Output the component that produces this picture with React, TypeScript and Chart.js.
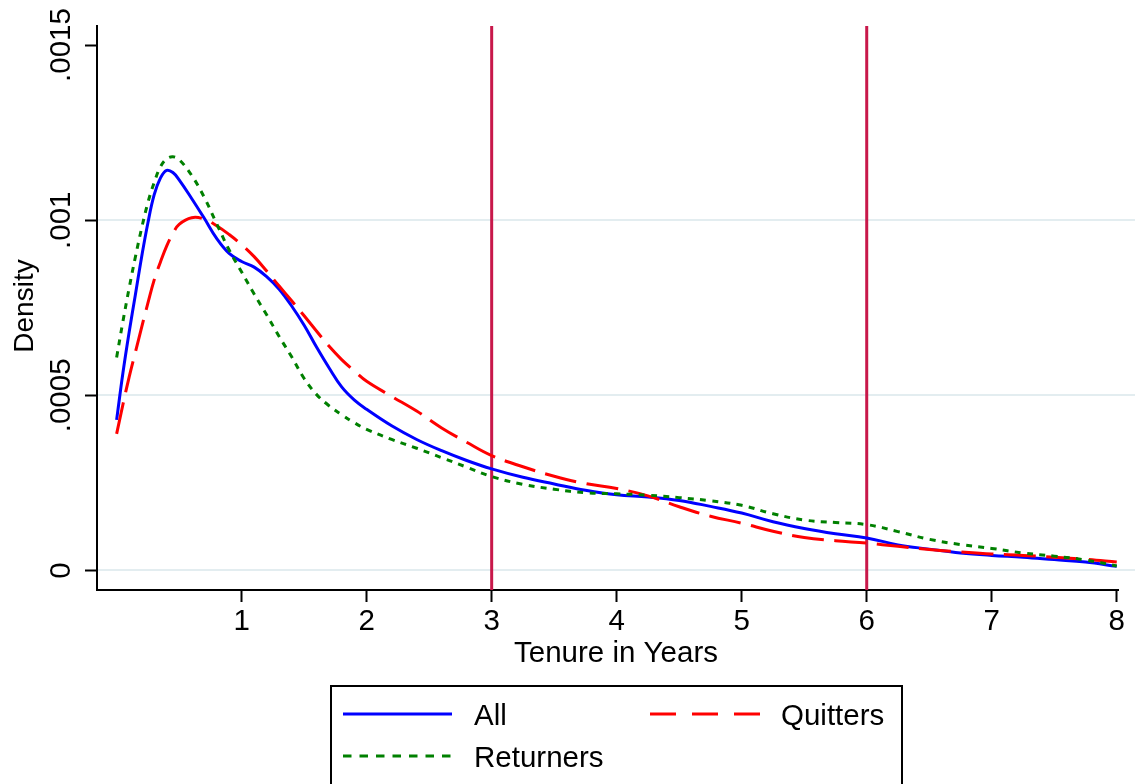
import React, { useEffect, useRef } from "react";
import { Chart, registerables } from "chart.js";

Chart.register(...registerables);

// ---------- data ----------
const TENURE = [
  0, 0.05, 0.1, 0.15, 0.2, 0.25, 0.3, 0.35, 0.4, 0.45, 0.5, 0.6, 0.7, 0.8, 0.9,
  1.0, 1.1, 1.2, 1.3, 1.4, 1.5, 1.6, 1.7, 1.8, 1.9, 2.0, 2.2, 2.4, 2.6, 2.8,
  3.0, 3.25, 3.5, 3.75, 4.0, 4.25, 4.5, 4.75, 5.0, 5.25, 5.5, 5.75, 6.0, 6.25,
  6.5, 6.75, 7.0, 7.25, 7.5, 7.75, 8.0,
];

const ALL = [
  0.00043, 0.000563, 0.00068, 0.000787, 0.000895, 0.000992, 0.001072, 0.00112,
  0.001142, 0.001136, 0.001115, 0.001062, 0.001006, 0.000948, 0.000905,
  0.000882, 0.000866, 0.000839, 0.000803, 0.000755, 0.0007, 0.000637, 0.000578,
  0.000524, 0.000487, 0.00046, 0.000413, 0.000374, 0.000342, 0.000314,
  0.00029, 0.000266, 0.000247, 0.000229, 0.000216, 0.00021, 0.0002, 0.000183,
  0.000164, 0.000139, 0.00012, 0.000105, 0.000093, 0.000073, 0.000061,
  0.00005, 0.000043, 0.000038, 0.000031, 0.000024, 0.000012,
];

const QUITTERS = [
  0.00039, 0.000473, 0.000552, 0.000623, 0.000694, 0.000763, 0.000829, 0.00088,
  0.000926, 0.000962, 0.000988, 0.001007, 0.001003, 0.000984, 0.000959,
  0.00093, 0.000896, 0.000855, 0.000812, 0.00077, 0.000727, 0.000683, 0.00064,
  0.000602, 0.00057, 0.00054, 0.000497, 0.000455, 0.000407, 0.000366,
  0.000328, 0.000296, 0.000269, 0.000248, 0.000234, 0.000213, 0.000182,
  0.000155, 0.000135, 0.000112, 0.000094, 0.000085, 0.000078, 0.000069,
  0.00006, 0.000053, 0.000047, 0.000043, 0.000038, 0.000032, 0.000024,
];

const RETURNERS = [
  0.000608, 0.00071, 0.000806, 0.000895, 0.000977, 0.00105, 0.001107, 0.001152,
  0.001175, 0.001181, 0.001173, 0.001128, 0.001066, 0.00099, 0.000915,
  0.000852, 0.000789, 0.00073, 0.000668, 0.00061, 0.000548, 0.000502, 0.00047,
  0.000445, 0.000422, 0.000403, 0.000374, 0.000349, 0.000322, 0.000295,
  0.000268, 0.000246, 0.000232, 0.000222, 0.000219, 0.000215, 0.000208,
  0.000199, 0.000186, 0.000162, 0.000144, 0.000137, 0.000131, 0.000111,
  0.000089, 0.000074, 0.000063, 0.00005, 0.000041, 0.00003, 0.000013,
];

const SERIES_NAMES = ["All", "Quitters", "Returners"];
const X_TICKS = [1, 2, 3, 4, 5, 6, 7, 8];
const Y_TICKS = [0, 0.0005, 0.001, 0.0015];
const Y_TICK_LABELS = ["0", ".0005", ".001", ".0015"];
const VLINES = [3, 6];
const X_TITLE = "Tenure in Years";
const Y_TITLE = "Density";

const X_MIN = -0.157;
const X_MAX = 8.01;
const Y_MIN = -0.0000557;
const Y_MAX = 0.0015543;

// ---------- styles ----------
const FONT = '"Liberation Sans", Arial, Helvetica, sans-serif';
const GRID = "#e3edf0";
const VLINE_COLOR = "#c8184a";

const pts = (vals: number[]) => TENURE.map((x, i) => ({ x, y: vals[i] }));

const stataPlugin = {
  id: "stataText",
  beforeDatasetsDraw(chart: any) {
    const { ctx, chartArea } = chart;
    const ys = chart.scales.y;
    ctx.save();
    ctx.strokeStyle = GRID;
    ctx.lineWidth = 2;
    Y_TICKS.forEach((v, i) => {
      if (i === Y_TICKS.length - 1) return;
      const py = Math.round(ys.getPixelForValue(v));
      ctx.beginPath();
      ctx.moveTo(chartArea.left + 1, py);
      ctx.lineTo(chart.width, py);
      ctx.stroke();
    });
    ctx.restore();
  },
  afterDraw(chart: any) {
    const { ctx } = chart;
    const xs = chart.scales.x;
    const ys = chart.scales.y;
    ctx.save();
    ctx.fillStyle = "#000";
    ctx.font = `29.5px ${FONT}`;
    ctx.textAlign = "center";
    ctx.textBaseline = "alphabetic";
    X_TICKS.forEach((v) => ctx.fillText(String(v), xs.getPixelForValue(v), 630));
    Y_TICKS.forEach((v, i) => {
      ctx.save();
      ctx.translate(70, ys.getPixelForValue(v));
      ctx.rotate(-Math.PI / 2);
      ctx.fillText(Y_TICK_LABELS[i], 0, 0);
      ctx.restore();
    });
    ctx.fillText(X_TITLE, 616, 662);
    ctx.save();
    ctx.translate(33, 306);
    ctx.rotate(-Math.PI / 2);
    ctx.font = `28px ${FONT}`;
    ctx.fillText(Y_TITLE, 0, 0);
    ctx.restore();

    // legend
    ctx.lineWidth = 2;
    ctx.strokeStyle = "#000";
    ctx.setLineDash([]);
    ctx.strokeRect(331, 686, 571, 130);
    const ds = chart.data.datasets;
    const entries = [
      { d: ds[0], x1: 343, x2: 452, y: 714, tx: 474, dash: [] as number[] },
      { d: ds[1], x1: 650, x2: 760, y: 714, tx: 781, dash: [26, 16] },
      { d: ds[2], x1: 343, x2: 452, y: 756, tx: 474, dash: [8.5, 8] },
    ];
    ctx.textAlign = "left";
    ctx.font = `29.5px ${FONT}`;
    entries.forEach((e) => {
      ctx.strokeStyle = e.d.borderColor;
      ctx.lineWidth = 3;
      ctx.setLineDash(e.dash);
      ctx.beginPath();
      ctx.moveTo(e.x1, e.y);
      ctx.lineTo(e.x2, e.y);
      ctx.stroke();
      ctx.setLineDash([]);
      ctx.fillStyle = "#000";
      ctx.fillText(e.d.label, e.tx, e.y + 11);
    });
    ctx.restore();
  },
};

export default function App() {
  const ref = useRef<HTMLCanvasElement | null>(null);

  useEffect(() => {
    if (!ref.current) return;
    const vlineSets = VLINES.map((v) => ({
      label: "",
      data: [
        { x: v, y: Y_MIN },
        { x: v, y: Y_MAX },
      ],
      borderColor: VLINE_COLOR,
      borderWidth: 3,
      pointRadius: 0,
      tension: 0,
      order: 10,
    }));
    const chart = new Chart(ref.current, {
      type: "line",
      data: {
        datasets: [
          {
            label: SERIES_NAMES[0],
            data: pts(ALL),
            borderColor: "#0000ff",
            borderWidth: 3,
            pointRadius: 0,
            tension: 0.4,
            order: 3,
          },
          {
            label: SERIES_NAMES[1],
            data: pts(QUITTERS),
            borderColor: "#ff0000",
            borderWidth: 3,
            borderDash: [32, 10.5],
            pointRadius: 0,
            tension: 0.4,
            order: 2,
          },
          {
            label: SERIES_NAMES[2],
            data: pts(RETURNERS),
            borderColor: "#008000",
            borderWidth: 3,
            borderDash: [6, 6.3],
            pointRadius: 0,
            tension: 0.4,
            order: 1,
          },
          ...vlineSets,
        ] as any,
      },
      options: {
        animation: false,
        responsive: false,
        devicePixelRatio: 1,
        layout: { padding: { left: 0, top: 26, right: 17, bottom: 0 } },
        plugins: { legend: { display: false }, tooltip: { enabled: false } },
        scales: {
          x: {
            type: "linear",
            min: X_MIN,
            max: X_MAX,
            afterBuildTicks: (s: any) => {
              s.ticks = X_TICKS.map((value) => ({ value }));
            },
            afterFit: (s: any) => {
              s.height = 194;
            },
            ticks: { display: false },
            grid: {
              drawOnChartArea: false,
              drawTicks: true,
              tickLength: 12,
              tickColor: "#000",
              tickWidth: 2,
            },
            border: { color: "#000", width: 2 },
          },
          y: {
            type: "linear",
            min: Y_MIN,
            max: Y_MAX,
            afterBuildTicks: (s: any) => {
              s.ticks = Y_TICKS.map((value) => ({ value }));
            },
            afterFit: (s: any) => {
              s.width = 97;
            },
            ticks: { display: false },
            grid: {
              drawOnChartArea: false,
              drawTicks: true,
              tickLength: 12,
              tickColor: "#000",
              tickWidth: 2,
            },
            border: { color: "#000", width: 2 },
          },
        },
      } as any,
      plugins: [stataPlugin],
    });
    return () => chart.destroy();
  }, []);

  return (
    <div
      style={{
        position: "fixed",
        left: 0,
        top: 0,
        width: 1135,
        height: 784,
        background: "#fff",
      }}
    >
      <canvas ref={ref} width={1135} height={784} style={{ display: "block" }} />
    </div>
  );
}
